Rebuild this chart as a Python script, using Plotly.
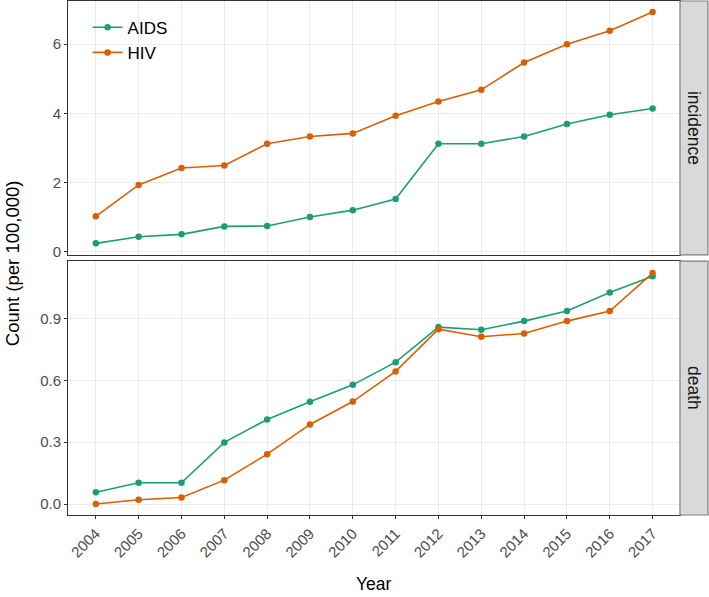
import plotly.graph_objects as go

years = [2004, 2005, 2006, 2007, 2008, 2009, 2010, 2011, 2012, 2013, 2014, 2015, 2016, 2017]

incidence_aids = [0.24, 0.43, 0.50, 0.73, 0.74, 1.00, 1.20, 1.52, 3.12, 3.12, 3.33, 3.69, 3.96, 4.14]
incidence_hiv = [1.02, 1.93, 2.42, 2.49, 3.12, 3.33, 3.42, 3.93, 4.34, 4.68, 5.47, 6.00, 6.39, 6.93]

death_aids = [0.057, 0.103, 0.103, 0.299, 0.410, 0.496, 0.578, 0.688, 0.858, 0.845, 0.887, 0.936, 1.026, 1.104]
death_hiv = [0.000, 0.021, 0.032, 0.116, 0.242, 0.386, 0.497, 0.643, 0.848, 0.811, 0.827, 0.887, 0.936, 1.120]

facets = ['incidence', 'death']
series_names = ['AIDS', 'HIV']
colors = {'AIDS': '#1B9E77', 'HIV': '#D95F02'}

FONT = 'Liberation Sans, Arial, sans-serif'

fig = go.Figure()

panel_data = [
    ('y', {'AIDS': incidence_aids, 'HIV': incidence_hiv}),
    ('y2', {'AIDS': death_aids, 'HIV': death_hiv}),
]

for i, (yax, data) in enumerate(panel_data):
    for name in series_names:
        fig.add_trace(go.Scatter(
            x=years, y=data[name], mode='lines+markers', name=name,
            xaxis='x' if i == 0 else 'x2', yaxis=yax,
            line=dict(color=colors[name], width=1.6),
            marker=dict(color=colors[name], size=6.5),
            showlegend=(i == 0),
        ))

# panel domains (pixels -> paper): plot area 68..680 x 1..515
top_dom = [0.506, 1.0]
bot_dom = [0.0, 0.494]
x_range = [2003.35, 2017.64]

axis_common = dict(
    showline=True, linecolor='#333333', linewidth=1, mirror=True,
    gridcolor='#EBEBEB', gridwidth=1, zeroline=False,
    ticks='outside', ticklen=3, tickcolor='#333333',
    tickfont=dict(family=FONT, size=15, color='#4D4D4D'),
)

fig.update_layout(
    width=709, height=597,
    margin=dict(l=68, r=29, t=1, b=82),
    paper_bgcolor='white', plot_bgcolor='white',
    font=dict(family=FONT),
    xaxis=dict(axis_common, domain=[0, 1], anchor='y', range=x_range,
               tickvals=years, showticklabels=False, ticks=''),
    xaxis2=dict(axis_common, domain=[0, 1], anchor='y2', range=x_range,
                tickvals=years, ticktext=[str(y) for y in years], tickangle=-45,
                matches='x'),
    yaxis=dict(axis_common, domain=top_dom, anchor='x', range=[-0.095, 7.25],
               tickvals=[0, 2, 4, 6]),
    yaxis2=dict(axis_common, domain=bot_dom, anchor='x2', range=[-0.053, 1.178],
                tickvals=[0, 0.3, 0.6, 0.9], ticktext=['0.0', '0.3', '0.6', '0.9']),
    legend=dict(x=0.032, y=0.983, xanchor='left', yanchor='top',
                bgcolor='rgba(0,0,0,0)', font=dict(family=FONT, size=17, color='black'),
                tracegroupgap=0, itemwidth=30),
)

# facet strips on the right
strip_x0, strip_x1 = 1.0, (708 - 68) / 612
for dom, label in zip([top_dom, bot_dom], facets):
    fig.add_shape(type='rect', xref='paper', yref='paper',
                  x0=strip_x0, x1=strip_x1, y0=dom[0], y1=dom[1],
                  fillcolor='#D9D9D9', line=dict(color='#7F7F7F', width=1.2))
    fig.add_annotation(text=label, xref='paper', yref='paper',
                       x=(strip_x0 + strip_x1) / 2, y=(dom[0] + dom[1]) / 2,
                       xanchor='center', yanchor='middle',
                       textangle=90, showarrow=False,
                       font=dict(family=FONT, size=17.5, color='#1A1A1A'))

# axis titles
fig.add_annotation(text='Count (per 100,000)', xref='paper', yref='paper',
                   x=(12 - 68) / 612, y=0.49, xanchor='center', yanchor='middle',
                   textangle=-90, showarrow=False,
                   font=dict(family=FONT, size=18.5, color='black'))
fig.add_annotation(text='Year', xref='paper', yref='paper',
                   x=0.5, y=(515 - 584) / 514, xanchor='center', yanchor='middle',
                   showarrow=False,
                   font=dict(family=FONT, size=17.5, color='black'))

# drop the browser's default 8px body margin so the figure sits at the page corner
fig.write_html('out.html', config={'displayModeBar': False},
               post_script="document.body.style.margin='0';")
